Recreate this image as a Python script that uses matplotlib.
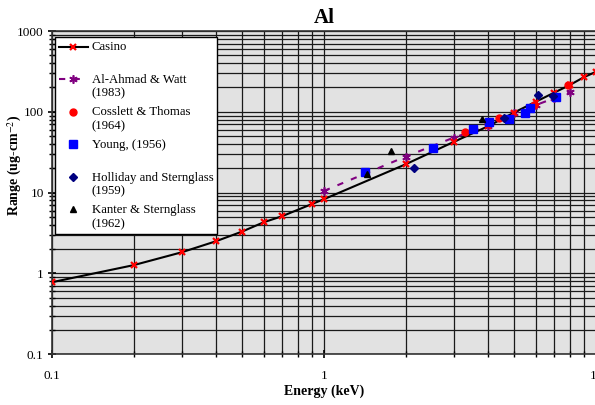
import matplotlib
matplotlib.use("Agg")
import matplotlib.pyplot as plt
from matplotlib.legend_handler import HandlerLine2D
from matplotlib.ticker import LogLocator, FixedLocator, FixedFormatter, NullFormatter

plt.rcParams['font.family'] = ['Liberation Serif', 'DejaVu Serif']
plt.rcParams['mathtext.fontset'] = 'stix'

# Casino simulation
casino_e = [0.1, 0.2, 0.3, 0.4, 0.5, 0.6, 0.7, 0.9, 1, 2, 3, 4, 5, 6, 7, 8, 9, 10]
casino_r = [0.78, 1.27, 1.83, 2.5, 3.3, 4.3, 5.1, 7.2, 8.3, 22.5, 42.5, 66, 98,
            133, 172, 214, 267, 313]

# experimental data
alahmad_e = [1, 2, 3, 4, 5, 6, 7, 8]
alahmad_r = [10.5, 28, 48, 66, 96, 121, 147, 177]

cosslett_e = [3.3, 4.4, 5.9, 7.9]
cosslett_r = [56, 84, 120, 214]

young_e = [1.41, 2.52, 3.52, 4.05, 4.8, 5.5, 5.7, 7.1]
young_r = [17.8, 36, 62, 74, 81, 96, 113, 151]

holliday_e = [2.15, 4.6, 6.1, 6.95]
holliday_r = [20, 85, 162, 158]

kanter_e = [1.44, 1.77, 3.8]
kanter_r = [16.9, 33, 81]

x_ticks = [0.1, 1, 10]
x_tick_labels = ['0.1', '1', '10']
y_ticks = [0.1, 1, 10, 100, 1000]
y_tick_labels = ['0.1', '1', '10', '100', '1000']


class FirstLineHandler(HandlerLine2D):
    # put the legend symbol next to the first line of a two-line label
    def create_artists(self, legend, orig_handle, xdescent, ydescent, width,
                       height, fontsize, trans):
        return super().create_artists(legend, orig_handle, xdescent,
                                      ydescent - 1.2 * fontsize, width, height,
                                      fontsize, trans)


fig = plt.figure(figsize=(5.95, 4.05), dpi=100)
ax = fig.add_axes([52 / 595, 1 - 354.3 / 405, 544 / 595, 323.3 / 405])
ax.set_facecolor('#E2E2E2')

ax.set_xscale('log')
ax.set_yscale('log')
ax.set_xlim(0.1, 10)
ax.set_ylim(0.1, 1000)

ax.xaxis.set_major_locator(FixedLocator(x_ticks))
ax.xaxis.set_major_formatter(FixedFormatter(x_tick_labels))
ax.yaxis.set_major_locator(FixedLocator(y_ticks))
ax.yaxis.set_major_formatter(FixedFormatter(y_tick_labels))
ax.xaxis.set_minor_locator(LogLocator(base=10, subs=range(2, 10)))
ax.yaxis.set_minor_locator(LogLocator(base=10, subs=range(2, 10)))
ax.xaxis.set_minor_formatter(NullFormatter())
ax.yaxis.set_minor_formatter(NullFormatter())

ax.grid(True, which='both', color='#1a1a1a', linewidth=0.9)
ax.set_axisbelow(True)
ax.tick_params(axis='both', which='major', direction='inout', length=6, width=1.2,
               labelsize=9.5)
ax.tick_params(axis='both', which='minor', direction='inout', length=4, width=1)
ax.tick_params(axis='x', which='major', pad=8)
ax.tick_params(axis='y', which='major', pad=3)
for s in ax.spines.values():
    s.set_color('#333333')
    s.set_linewidth(1.2)

ax.plot(casino_e, casino_r, color='black', linewidth=1.5, marker='x',
        markersize=5, markeredgecolor='red', markeredgewidth=1.6, label='Casino\n ',
        zorder=4)
ax.plot(alahmad_e, alahmad_r, color='#800080', linestyle=(0, (3, 4)), linewidth=1.5,
        marker=(6, 2, 0), markersize=6, markeredgecolor='#800080', markeredgewidth=1.2,
        label='Al-Ahmad & Watt\n(1983)', zorder=3)
ax.plot(cosslett_e, cosslett_r, linestyle='none', marker='o', markersize=5,
        color='red', label='Cosslett & Thomas\n(1964)', zorder=5)
ax.plot(young_e, young_r, linestyle='none', marker='s', markersize=5.5,
        color='blue', label='Young, (1956)\n ', zorder=5)
ax.plot(holliday_e, holliday_r, linestyle='none', marker='D', markersize=4,
        color='#000080', label='Holliday and Sternglass\n(1959)', zorder=5)
ax.plot(kanter_e, kanter_r, linestyle='none', marker='^', markersize=5,
        color='black', label='Kanter & Sternglass\n(1962)', zorder=5)

handles, labels = ax.get_legend_handles_labels()
leg = ax.legend(handles, labels, loc='upper left', bbox_to_anchor=(0.005, 0.98),
                borderaxespad=0, fontsize=9.2, frameon=True, fancybox=False,
                framealpha=1, edgecolor='black', labelspacing=0.53,
                handlelength=2.3, handletextpad=0.3, borderpad=0.3,
                handler_map={h: FirstLineHandler() for h in handles})
leg.get_frame().set_linewidth(1.0)

ax.set_title('Al', fontsize=15, fontweight='bold', pad=6)
ax.set_xlabel('Energy (keV)', fontsize=10, fontweight='bold')
ax.set_ylabel('Range (ug-cm$^{-2}$)', fontsize=10, fontweight='bold')
ax.xaxis.set_label_coords(0.5, -0.095)
ax.yaxis.set_label_coords(-0.052, 0.585)

fig.savefig('out.png', dpi=100)
